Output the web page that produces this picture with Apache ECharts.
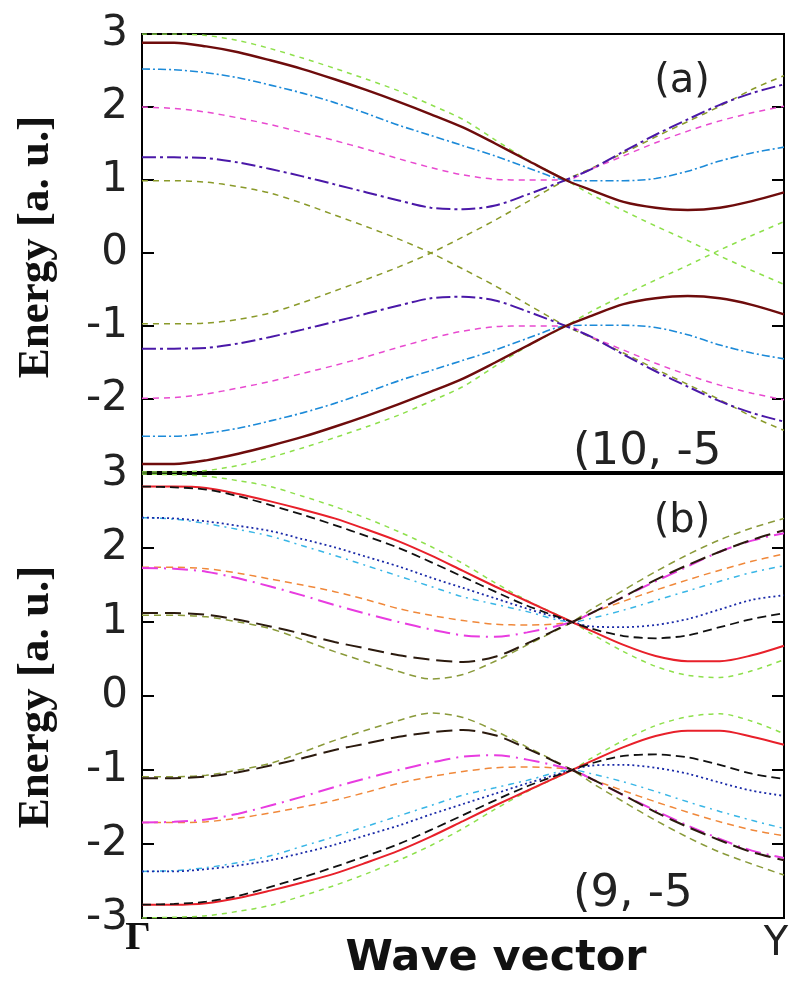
<!DOCTYPE html>
<html>
<head>
<meta charset="utf-8">
<script src="https://cdn.jsdelivr.net/npm/echarts@6/dist/echarts.min.js"></script>
<style>
  html, body { margin: 0; padding: 0; background: #fff; }
  #chart { width: 791px; height: 985px; }
</style>
</head>
<body>
<div id="chart"></div>
<script>
// wave vector positions (Γ = 0, Y = 1), crossing point sits at ~0.66
var kA = [0, 0.05, 0.1, 0.15, 0.2, 0.25, 0.3, 0.35, 0.4, 0.45, 0.5, 0.55, 0.6, 0.66, 0.7, 0.75, 0.8, 0.85, 0.9, 0.95, 1];
var kB = [0, 0.05, 0.1, 0.15, 0.2, 0.25, 0.3, 0.35, 0.4, 0.45, 0.5, 0.55, 0.6, 0.67, 0.7, 0.75, 0.8, 0.85, 0.9, 0.95, 1];

var yTicks = [-3, -2, -1, 0, 1, 2, 3];

// panel (a) bands
var aGreen     = [3.0, 3.0, 2.98, 2.91, 2.80, 2.67, 2.53, 2.38, 2.22, 2.03, 1.83, 1.55, 1.28, 1.0, 0.80, 0.58, 0.37, 0.17, -0.04, -0.24, -0.43];
var aRed       = [2.88, 2.88, 2.83, 2.75, 2.64, 2.52, 2.38, 2.23, 2.07, 1.90, 1.72, 1.50, 1.27, 1.0, 0.86, 0.70, 0.62, 0.59, 0.62, 0.71, 0.83];
var aCyan      = [2.52, 2.51, 2.47, 2.40, 2.30, 2.19, 2.06, 1.91, 1.75, 1.61, 1.47, 1.33, 1.17, 1.0, 0.99, 0.99, 1.02, 1.12, 1.26, 1.37, 1.45];
var aMagenta   = [2.0, 1.98, 1.93, 1.85, 1.76, 1.65, 1.54, 1.42, 1.29, 1.17, 1.07, 1.01, 1.0, 1.0, 1.15, 1.33, 1.51, 1.67, 1.81, 1.92, 2.01];
var aPurple    = [1.31, 1.31, 1.30, 1.24, 1.15, 1.05, 0.94, 0.83, 0.72, 0.62, 0.60, 0.65, 0.80, 1.0, 1.15, 1.39, 1.62, 1.83, 2.03, 2.19, 2.31];
var aOlive     = [0.99, 0.99, 0.97, 0.91, 0.82, 0.68, 0.52, 0.36, 0.19, 0.0, -0.22, -0.45, -0.70, -1.0, -1.16, -1.37, -1.59, -1.80, -2.01, -2.24, -2.43];
var aGreenLo   = [-3.0, -3.0, -2.98, -2.91, -2.80, -2.67, -2.53, -2.38, -2.22, -2.03, -1.83, -1.55, -1.28, -1.0, -0.80, -0.58, -0.37, -0.17, 0.04, 0.24, 0.43];
var aRedLo     = [-2.89, -2.89, -2.84, -2.75, -2.64, -2.52, -2.38, -2.23, -2.07, -1.90, -1.72, -1.50, -1.27, -1.0, -0.86, -0.70, -0.62, -0.59, -0.62, -0.71, -0.84];
var aCyanLo    = [-2.51, -2.51, -2.47, -2.40, -2.30, -2.19, -2.06, -1.91, -1.75, -1.61, -1.47, -1.33, -1.17, -1.0, -0.99, -0.99, -1.02, -1.12, -1.26, -1.37, -1.45];
var aMagentaLo = [-1.99, -1.98, -1.93, -1.85, -1.76, -1.65, -1.54, -1.42, -1.29, -1.17, -1.07, -1.01, -1.0, -1.0, -1.15, -1.33, -1.51, -1.67, -1.81, -1.92, -2.01];
var aPurpleLo  = [-1.31, -1.31, -1.30, -1.24, -1.15, -1.05, -0.94, -0.83, -0.72, -0.62, -0.60, -0.65, -0.80, -1.0, -1.15, -1.39, -1.62, -1.83, -2.03, -2.19, -2.31];
var aOliveLo   = [-0.97, -0.97, -0.96, -0.91, -0.82, -0.68, -0.52, -0.36, -0.19, 0.0, 0.22, 0.45, 0.70, 1.0, 1.16, 1.37, 1.59, 1.80, 2.01, 2.24, 2.43];

// panel (b) bands
var bGreen     = [3.0, 2.99, 2.97, 2.91, 2.83, 2.70, 2.56, 2.40, 2.22, 2.02, 1.79, 1.53, 1.29, 1.0, 0.84, 0.60, 0.40, 0.28, 0.25, 0.34, 0.49];
var bRed       = [2.83, 2.83, 2.81, 2.73, 2.63, 2.52, 2.40, 2.25, 2.09, 1.90, 1.69, 1.48, 1.28, 1.0, 0.88, 0.69, 0.54, 0.47, 0.47, 0.55, 0.68];
var bBlackDash = [2.83, 2.82, 2.79, 2.70, 2.58, 2.45, 2.31, 2.16, 2.0, 1.81, 1.61, 1.41, 1.22, 1.0, 0.91, 0.81, 0.78, 0.82, 0.93, 1.04, 1.12];
var bBlue      = [2.41, 2.40, 2.36, 2.30, 2.23, 2.12, 2.01, 1.88, 1.75, 1.60, 1.46, 1.32, 1.18, 1.0, 0.94, 0.93, 0.96, 1.04, 1.17, 1.30, 1.36];
var bCyan      = [2.41, 2.39, 2.33, 2.25, 2.16, 2.03, 1.90, 1.76, 1.62, 1.48, 1.34, 1.24, 1.14, 1.0, 1.05, 1.16, 1.29, 1.42, 1.55, 1.67, 1.76];
var bOrange    = [1.74, 1.74, 1.72, 1.66, 1.58, 1.50, 1.41, 1.30, 1.18, 1.09, 1.02, 0.97, 0.96, 1.0, 1.12, 1.28, 1.43, 1.57, 1.70, 1.82, 1.92];
var bMagenta   = [1.73, 1.72, 1.68, 1.59, 1.48, 1.36, 1.23, 1.11, 1.0, 0.90, 0.82, 0.80, 0.86, 1.0, 1.12, 1.34, 1.55, 1.75, 1.95, 2.10, 2.20];
var bBlackLong = [1.12, 1.12, 1.10, 1.03, 0.94, 0.84, 0.73, 0.64, 0.55, 0.49, 0.46, 0.53, 0.71, 1.0, 1.12, 1.34, 1.57, 1.77, 1.95, 2.11, 2.24];
var bOlive     = [1.09, 1.09, 1.07, 1.0, 0.91, 0.76, 0.60, 0.46, 0.33, 0.23, 0.29, 0.47, 0.69, 1.0, 1.17, 1.43, 1.68, 1.91, 2.11, 2.27, 2.40];
var bGreenLo     = [-3.0, -2.99, -2.97, -2.91, -2.83, -2.70, -2.56, -2.40, -2.22, -2.02, -1.79, -1.53, -1.29, -1.0, -0.84, -0.60, -0.40, -0.28, -0.24, -0.34, -0.51];
var bRedLo       = [-2.82, -2.82, -2.80, -2.73, -2.63, -2.52, -2.40, -2.25, -2.09, -1.90, -1.69, -1.48, -1.28, -1.0, -0.88, -0.69, -0.54, -0.47, -0.47, -0.55, -0.66];
var bBlackDashLo = [-2.82, -2.81, -2.78, -2.70, -2.58, -2.45, -2.31, -2.16, -2.0, -1.81, -1.61, -1.41, -1.22, -1.0, -0.91, -0.81, -0.79, -0.83, -0.93, -1.05, -1.12];
var bBlueLo      = [-2.37, -2.37, -2.34, -2.29, -2.22, -2.12, -2.01, -1.88, -1.75, -1.60, -1.46, -1.32, -1.18, -1.0, -0.94, -0.93, -0.97, -1.05, -1.17, -1.28, -1.35];
var bCyanLo      = [-2.37, -2.36, -2.32, -2.25, -2.16, -2.03, -1.90, -1.76, -1.62, -1.48, -1.34, -1.24, -1.14, -1.0, -1.05, -1.16, -1.29, -1.43, -1.56, -1.68, -1.79];
var bOrangeLo    = [-1.71, -1.71, -1.70, -1.65, -1.58, -1.50, -1.41, -1.30, -1.18, -1.09, -1.02, -0.97, -0.96, -1.0, -1.12, -1.28, -1.43, -1.57, -1.70, -1.81, -1.89];
var bMagentaLo   = [-1.71, -1.70, -1.67, -1.59, -1.48, -1.36, -1.23, -1.11, -1.0, -0.90, -0.82, -0.80, -0.86, -1.0, -1.12, -1.34, -1.55, -1.75, -1.93, -2.09, -2.19];
var bBlackLongLo = [-1.11, -1.11, -1.09, -1.03, -0.94, -0.84, -0.73, -0.64, -0.55, -0.49, -0.46, -0.53, -0.71, -1.0, -1.12, -1.34, -1.57, -1.77, -1.95, -2.11, -2.22];
var bOliveLo     = [-1.09, -1.09, -1.07, -1.0, -0.91, -0.76, -0.60, -0.46, -0.33, -0.23, -0.29, -0.47, -0.69, -1.0, -1.17, -1.43, -1.68, -1.91, -2.11, -2.27, -2.42];

function band(k, values, panel, color, width, dash) {
  return {
    type: 'line',
    xAxisIndex: panel,
    yAxisIndex: panel * 2,
    data: k.map(function (x, i) { return [x, values[i]]; }),
    showSymbol: false,
    smooth: 0.3,
    silent: true,
    lineStyle: { color: color, width: width, type: dash }
  };
}

var series = [
  band(kA, aGreen, 0, '#8ee04c', 1.5, [5, 5]),
  band(kA, aGreenLo, 0, '#8ee04c', 1.5, [5, 5]),
  band(kA, aOlive, 0, '#8a9a2a', 1.5, [6, 5]),
  band(kA, aOliveLo, 0, '#8a9a2a', 1.5, [6, 5]),
  band(kA, aMagenta, 0, '#e84ad0', 1.5, [6, 5]),
  band(kA, aMagentaLo, 0, '#e84ad0', 1.5, [6, 5]),
  band(kA, aCyan, 0, '#1c8ad8', 1.6, [8, 3, 2, 3]),
  band(kA, aCyanLo, 0, '#1c8ad8', 1.6, [8, 3, 2, 3]),
  band(kA, aPurple, 0, '#4a18a8', 2, [14, 4, 3, 4]),
  band(kA, aPurpleLo, 0, '#4a18a8', 2, [14, 4, 3, 4]),
  band(kA, aRed, 0, '#6e0c0c', 2.4, 'solid'),
  band(kA, aRedLo, 0, '#6e0c0c', 2.4, 'solid'),

  band(kB, bGreen, 1, '#8ee04c', 1.5, [5, 5]),
  band(kB, bGreenLo, 1, '#8ee04c', 1.5, [5, 5]),
  band(kB, bOlive, 1, '#8a9a3a', 1.5, [7, 5]),
  band(kB, bOliveLo, 1, '#8a9a3a', 1.5, [7, 5]),
  band(kB, bOrange, 1, '#f0883a', 1.5, [7, 5]),
  band(kB, bOrangeLo, 1, '#f0883a', 1.5, [7, 5]),
  band(kB, bCyan, 1, '#39b6e6', 1.5, [6, 5, 2, 5]),
  band(kB, bCyanLo, 1, '#39b6e6', 1.5, [6, 5, 2, 5]),
  band(kB, bBlue, 1, '#1a2aa8', 1.8, [2, 3]),
  band(kB, bBlueLo, 1, '#1a2aa8', 1.8, [2, 3]),
  band(kB, bMagenta, 1, '#e83ce0', 2, [16, 6, 2, 6]),
  band(kB, bMagentaLo, 1, '#e83ce0', 2, [16, 6, 2, 6]),
  band(kB, bBlackLong, 1, '#2b1a0e', 2, [16, 7]),
  band(kB, bBlackLongLo, 1, '#2b1a0e', 2, [16, 7]),
  band(kB, bRed, 1, '#e8202a', 2, 'solid'),
  band(kB, bRedLo, 1, '#e8202a', 2, 'solid'),
  band(kB, bBlackDash, 1, '#111111', 1.8, [9, 5]),
  band(kB, bBlackDashLo, 1, '#111111', 1.8, [9, 5])
];

var thinFont = '"DejaVu Sans ExtraLight", "DejaVu Sans"';

function xAx(gridIndex) {
  return {
    type: 'value', gridIndex: gridIndex, min: 0, max: 1,
    axisLine: { show: false }, axisTick: { show: false },
    axisLabel: { show: false }, splitLine: { show: false }
  };
}

function yAx(gridIndex, showLabels, hideMin) {
  return {
    type: 'value', gridIndex: gridIndex,
    min: yTicks[0], max: yTicks[yTicks.length - 1], interval: 1,
    position: showLabels ? 'left' : 'right',
    axisLine: { show: false },
    axisTick: { show: true, inside: true, length: 12, lineStyle: { color: '#000', width: 2 } },
    axisLabel: {
      show: showLabels, showMinLabel: !hideMin, margin: 14,
      fontFamily: thinFont, fontSize: 42, color: '#222'
    },
    splitLine: { show: false }
  };
}

function txt(x, y, text, font, opts) {
  opts = opts || {};
  return {
    type: 'text', x: x, y: y, rotation: opts.rotation || 0, silent: true,
    style: {
      text: text, font: font, fill: opts.fill || '#222',
      align: opts.align || 'center', verticalAlign: 'middle',
      textAlign: opts.align || 'center', textVerticalAlign: 'middle'
    }
  };
}

var option = {
  backgroundColor: '#fff',
  animation: false,
  grid: [
    { left: 142, top: 34, width: 642, height: 438, show: true, borderColor: '#000', borderWidth: 2, backgroundColor: 'transparent' },
    { left: 142, top: 474, width: 642, height: 444, show: true, borderColor: '#000', borderWidth: 2, backgroundColor: 'transparent' }
  ],
  xAxis: [xAx(0), xAx(1)],
  yAxis: [yAx(0, true, true), yAx(0, false, false), yAx(1, true, false), yAx(1, false, false)],
  series: series,
  graphic: [
    txt(36, 247, 'Energy [a. u.]', 'bold 45px "Liberation Serif"', { rotation: Math.PI / 2, fill: '#111' }),
    txt(36, 697, 'Energy [a. u.]', 'bold 45px "Liberation Serif"', { rotation: Math.PI / 2, fill: '#111' }),
    txt(682, 82, '(a)', '40px ' + thinFont),
    txt(682, 522, '(b)', '40px ' + thinFont),
    txt(573, 452, '(10, -5', '45px ' + thinFont, { align: 'left' }),
    txt(573, 894, '(9, -5', '45px ' + thinFont, { align: 'left' }),
    txt(138, 939, 'Γ', 'bold 40px "Liberation Serif"', { fill: '#111' }),
    txt(776, 945, 'Y', '40px ' + thinFont),
    txt(496, 959, 'Wave vector', 'bold 43px "DejaVu Sans"', { fill: '#111' })
  ]
};

var chart = echarts.init(document.getElementById('chart'));
chart.setOption(option);
</script>
</body>
</html>
